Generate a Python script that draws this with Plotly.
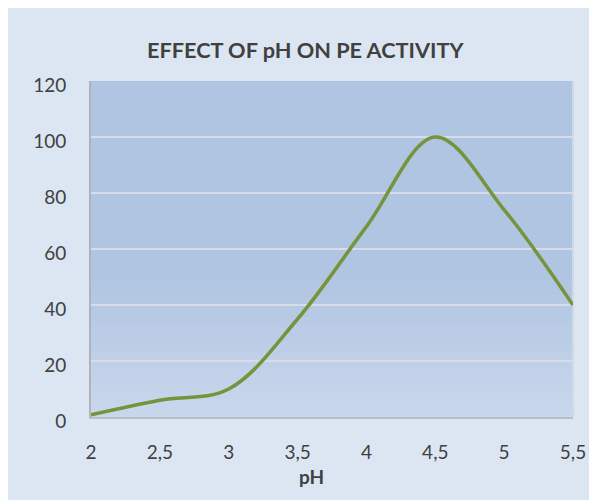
import plotly.graph_objects as go

ph = [2, 2.5, 3, 3.5, 4, 4.5, 5, 5.5]
activity = [0.8, 6, 10, 35, 68, 100, 74, 40]
x_ticks = [2, 2.5, 3, 3.5, 4, 4.5, 5, 5.5]
x_labels = ["2", "2,5", "3", "3,5", "4", "4,5", "5", "5,5"]
y_ticks = [0, 20, 40, 60, 80, 100, 120]

W, H = 589, 492
L, R, T, B = 83, 24, 73, 83
PW, PH = W - L - R, H - T - B
FONT = "Lato"
TXT = "#404040"

fig = go.Figure()
fig.add_trace(go.Scatter(
    x=ph, y=activity, mode="lines",
    line=dict(color="#77933c", width=3.5, shape="spline", smoothing=1.0),
    hoverinfo="skip", showlegend=False,
))

shapes = []
# vertical gradient in plot area
top = (176, 197, 226)
bot = (201, 215, 236)
n = 30
g0 = 0.42
for i in range(n):
    f0 = g0 * i / n
    f1 = g0 * (i + 1) / n
    t = 1 - (i + 0.5) / n
    c = tuple(int(round(top[k] + (bot[k] - top[k]) * t)) for k in range(3))
    shapes.append(dict(type="rect", xref="x domain", yref="y domain",
                       x0=0, x1=1, y0=f0, y1=f1 + 0.002,
                       fillcolor="rgb(%d,%d,%d)" % c, line_width=0, layer="below"))
shapes.append(dict(type="rect", xref="x domain", yref="y domain",
                   x0=0, x1=1, y0=g0, y1=1,
                   fillcolor="rgb(%d,%d,%d)" % top, line_width=0, layer="below"))
shapes.append(dict(type="line", xref="x domain", yref="y domain",
                   x0=1, x1=1, y0=0, y1=1, line=dict(color="#d0d9e6", width=2), layer="below"))

fig.update_layout(
    width=W, height=H,
    margin=dict(l=L, r=R, t=T, b=B, pad=0),
    paper_bgcolor="#dce6f2",
    plot_bgcolor="rgb(176,197,226)",
    shapes=shapes,
    font=dict(family=FONT, size=19, color=TXT),
    showlegend=False,
    xaxis=dict(
        range=[2, 5.5], tickmode="array", tickvals=x_ticks, ticktext=x_labels,
        showgrid=False, zeroline=False, showline=True, linecolor="#b8bec8", linewidth=1.5,
        ticks="", ticklabelstandoff=17, tickfont=dict(family=FONT, size=19, color=TXT),
        fixedrange=True,
    ),
    yaxis=dict(
        range=[0, 120], tickmode="array", tickvals=y_ticks,
        showgrid=True, gridcolor="#d6dde8", gridwidth=2,
        zeroline=False, showline=True, linecolor="#b0b4ba", linewidth=2,
        ticks="", ticklabelstandoff=19, ticklabelshift=4,
        tickfont=dict(family=FONT, size=19, color=TXT),
        fixedrange=True,
    ),
    annotations=[
        dict(text="<b>EFFECT OF pH ON PE ACTIVITY</b>", xref="paper", yref="paper",
             x=(297 - L) / PW, y=1 + (T - 42) / PH, xanchor="center", yanchor="middle",
             showarrow=False, font=dict(family=FONT, size=21.7, color=TXT)),
        dict(text="<b>pH</b>", xref="paper", yref="paper",
             x=(303 - L) / PW, y=-(468 - (T + PH)) / PH, xanchor="center", yanchor="middle",
             showarrow=False, font=dict(family=FONT, size=19, color=TXT)),
    ],
)

fig.write_html("out.html")
